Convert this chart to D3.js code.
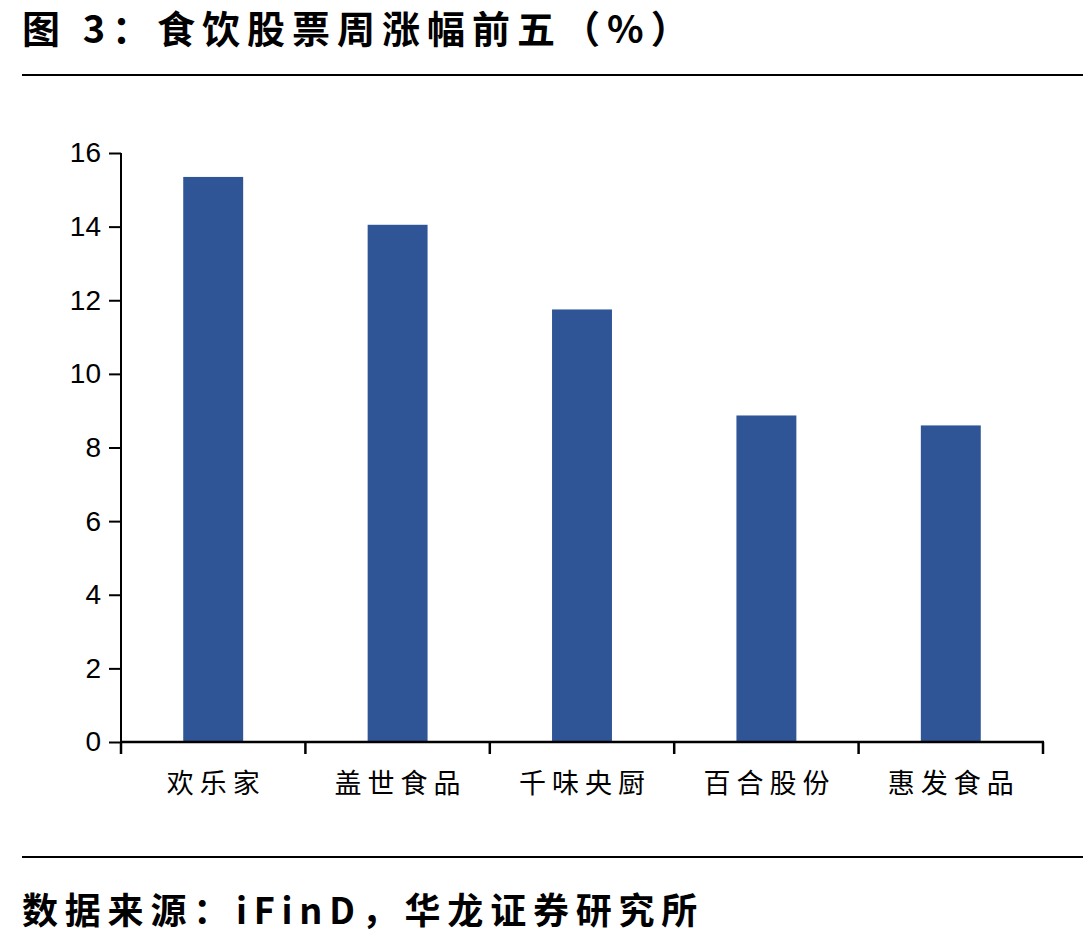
<!DOCTYPE html>
<html><head><meta charset="utf-8">
<script src="https://cdn.jsdelivr.net/npm/d3@7"></script>
<style>body{margin:0;background:#fff}svg{display:block}</style>
</head><body>
<script>
const categories = ["欢乐家","盖世食品","千味央厨","百合股份","惠发食品"];
const values = [15.35, 14.05, 11.75, 8.87, 8.6];
const yTicks = [0,2,4,6,8,10,12,14,16];
const titleText = "图 3：食饮股票周涨幅前五（%）";
const sourceText = "数据来源：iFinD，华龙证券研究所";

const W = 1083, H = 944;
const svg = d3.select("body").append("svg").attr("width", W).attr("height", H);

svg.append("text").attr("x", 22).attr("y", 43)
  .attr("font-family", "'Noto Sans CJK SC'").attr("font-weight", 700)
  .attr("font-size", 38).attr("letter-spacing", 7).attr("fill", "#000").text(titleText);
svg.append("line").attr("x1", 22).attr("x2", 1083).attr("y1", 75).attr("y2", 75)
  .attr("stroke", "#000").attr("stroke-width", 2);

const x = d3.scaleBand().domain(categories).range([121, 1043]).paddingInner(0.675).paddingOuter(0.3375);
const y = d3.scaleLinear().domain([0, 16]).range([742, 153]);

svg.append("g").selectAll("rect").data(values).join("rect")
  .attr("x", (d, i) => x(categories[i])).attr("width", x.bandwidth())
  .attr("y", d => y(d)).attr("height", d => y(0) - y(d)).attr("fill", "#2F5597");

const yAxis = svg.append("g").attr("transform", "translate(121,0)")
  .call(d3.axisLeft(y).tickValues(yTicks).tickSize(12).tickPadding(8).tickFormat(d3.format("d")));
yAxis.select(".domain").attr("stroke", "#000").attr("stroke-width", 2).attr("d", "M0,153V742");
yAxis.selectAll(".tick line").attr("stroke", "#000").attr("stroke-width", 2);
yAxis.selectAll("text").attr("font-family", "'Liberation Sans', Arial, sans-serif").attr("font-size", 28).attr("fill", "#000");

const xAxis = svg.append("g").attr("transform", "translate(0,742)");
xAxis.append("line").attr("x1", 121).attr("x2", 1044).attr("y1", 0).attr("y2", 0).attr("stroke", "#000").attr("stroke-width", 2.5);
const step = x.step();
const bounds = d3.range(categories.length + 1).map(i => 121 + i * step);
xAxis.selectAll("line.t").data(bounds).join("line").attr("class", "t")
  .attr("x1", d => d).attr("x2", d => d).attr("y1", 0).attr("y2", 12).attr("stroke", "#000").attr("stroke-width", 2.5);
xAxis.selectAll("text").data(categories).join("text")
  .attr("x", d => x(d) + x.bandwidth() / 2 + 3).attr("y", 51)
  .attr("text-anchor", "middle").attr("font-family", "'Noto Sans CJK SC'")
  .attr("font-size", 27).attr("letter-spacing", 6).attr("fill", "#000").text(d => d);

svg.append("line").attr("x1", 22).attr("x2", 1083).attr("y1", 857).attr("y2", 857)
  .attr("stroke", "#000").attr("stroke-width", 2);
svg.append("text").attr("x", 22).attr("y", 924)
  .attr("font-family", "'Noto Sans CJK SC'").attr("font-weight", 700)
  .attr("font-size", 36).attr("letter-spacing", 6.8).attr("fill", "#000").text(sourceText);
</script>
</body></html>
